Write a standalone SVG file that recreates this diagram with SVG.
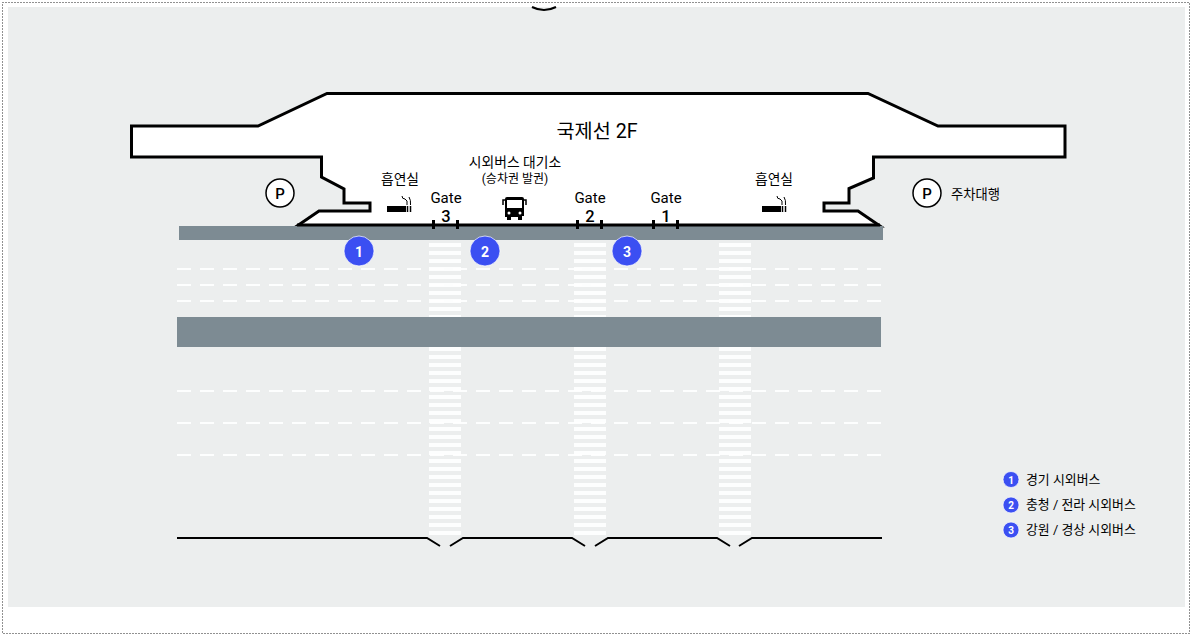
<svg xmlns="http://www.w3.org/2000/svg" width="1192" height="636" viewBox="0 0 1192 636">
<style>
text{font-family:"Roboto","Noto Sans CJK KR",sans-serif;fill:#000;text-anchor:middle}
.l{stroke:#000;fill:none}
.road{fill:#7d8b93}
.dash{stroke:#fff;stroke-width:2;stroke-dasharray:14 9;fill:none;opacity:.9}
.zebra{stroke:#fff;stroke-width:32;stroke-dasharray:4 4;fill:none;opacity:.9}
.b{fill:#3b4ff2;stroke:#fff;stroke-opacity:.7;stroke-width:1}
.n{fill:#fff;font-weight:700}
.t{font-size:13.800px}
.lg{font-size:12.900px;text-anchor:start}
</style>
<rect width="1192" height="636" fill="#fff"/>
<rect x="8" y="7" width="1177" height="600" fill="#eceeee"/>
<rect x="2.500" y="2.500" width="1187" height="631" fill="none" stroke="#222" stroke-width="1" stroke-dasharray="1 2"/>
<path class="l" stroke-width="2" d="M532 7Q544 13 556 7"/>
<g id="terminal">
<path d="M131.500 126H258L327 93.500H868L938 126H1065V157H873.500V178L849 188.500V203H824V211H858L880 226H297L319 211H370V203H344V189L321.500 177V157H131.500Z" fill="#fff" stroke="#000" stroke-width="3" stroke-linejoin="miter"/>
<text x="597" y="138" font-size="19.700" font-weight="400">국제선 2F</text>
</g>
<g id="roads">
<rect class="road" x="179" y="226" width="704" height="14"/>
<path class="l" stroke-width="3" d="M297 225H880"/>
<g class="dashes">
<path class="dash" d="M177 269H883M177 285H883M177 301H883M177 391H883M177 423H883M177 455H883"/>
</g>
<g class="zebras">
<path class="zebra" d="M445 243V535M590 243V535M735 243V535"/>
</g>
<rect class="road" x="177" y="317" width="704" height="30"/>
<path class="l" stroke-width="2" d="M177 538H427L440 546M450 546L463 538H572L585 546M595 546L608 538H717L730 546M739 546L752 538H882"/>
</g>
<g id="gates">
<path class="l" stroke-width="3" d="M433.500 220V229M457.500 220V229M577.500 220V229M601.500 220V229M653.500 220V229M677.500 220V229"/>
<text x="446" y="203" font-size="15">Gate</text><text x="446" y="221.500" font-size="16.500" font-weight="500">3</text>
<text x="590" y="203" font-size="15">Gate</text><text x="590" y="221.500" font-size="16.500" font-weight="500">2</text>
<text x="666" y="203" font-size="15">Gate</text><text x="666" y="221.500" font-size="16.500" font-weight="500">1</text>
</g>
<g id="bus-stop">
<text x="515" y="167" class="t">시외버스 대기소</text>
<text x="515" y="183" font-size="12">(승차권 발권)</text>
<path d="M505 199Q505 197 507 197H522Q524 197 524 199V216H522V220H518V217H511V220H507V217H505Z" fill="#000"/>
<rect x="507" y="200" width="15" height="8" fill="#fff"/>
<circle cx="509" cy="213" r="1.500" fill="#fff"/><circle cx="520" cy="213" r="1.500" fill="#fff"/>
<path class="l" stroke-width="1.500" d="M505 200H503V205M524 200H526V205"/>
</g>
<g id="smoking-left">
<text x="400" y="184" class="t">흡연실</text>
<rect x="387" y="206" width="19" height="6" fill="#000"/>
<path class="l" d="M407.500 206V212M410.500 206V212" stroke-width="1.500"/>
<path class="l" d="M402 196Q402 199 405 199Q408 200 407 205M409 197Q411 200 410.500 205" stroke-width="1"/>
</g>
<g id="smoking-right">
<text x="774" y="184" class="t">흡연실</text>
<rect x="762" y="206" width="19" height="6" fill="#000"/>
<path class="l" d="M782.500 206V212M785.500 206V212" stroke-width="1.500"/>
<path class="l" d="M777 196Q777 199 780 199Q783 200 782 205M784 197Q786 200 785.500 205" stroke-width="1"/>
</g>
<g id="parking-left">
<circle cx="280" cy="193" r="14" fill="#fff" stroke="#000" stroke-width="1.500"/>
<text x="280" y="198.500" font-size="15" font-weight="500">P</text>
</g>
<g id="parking-right">
<circle cx="927" cy="193" r="14" fill="#fff" stroke="#000" stroke-width="1.500"/>
<text x="927" y="198.500" font-size="15" font-weight="500">P</text>
<text x="975.500" y="198.500" font-size="13.300">주차대행</text>
</g>
<g id="marker-1"><circle class="b" cx="359" cy="251" r="15"/><text class="n" x="359" y="256.500" font-size="14">1</text></g>
<g id="marker-2"><circle class="b" cx="485" cy="251" r="15"/><text class="n" x="485" y="256.500" font-size="14">2</text></g>
<g id="marker-3"><circle class="b" cx="627" cy="251" r="15"/><text class="n" x="627" y="256.500" font-size="14">3</text></g>
<g id="legend-1"><circle class="b" cx="1011" cy="479.500" r="8"/><text class="n" x="1011" y="483.500" font-size="10">1</text><text class="lg" x="1026" y="484">경기 시외버스</text></g>
<g id="legend-2"><circle class="b" cx="1011" cy="505" r="8"/><text class="n" x="1011" y="509" font-size="10">2</text><text class="lg" x="1026" y="509">충청 / 전라 시외버스</text></g>
<g id="legend-3"><circle class="b" cx="1011" cy="530" r="8"/><text class="n" x="1011" y="534" font-size="10">3</text><text class="lg" x="1026" y="534">강원 / 경상 시외버스</text></g>
</svg>
